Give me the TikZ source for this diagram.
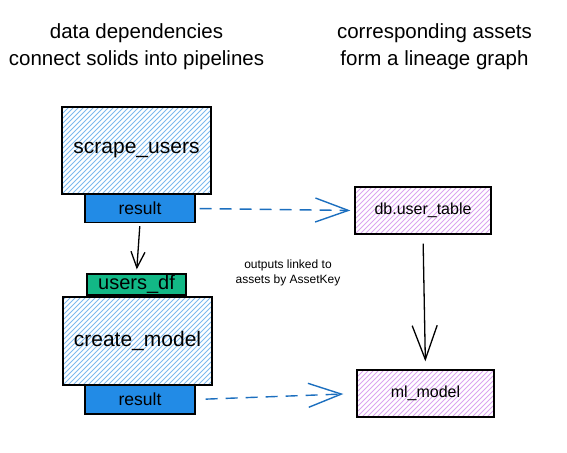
\documentclass[tikz,border=0pt]{standalone}
\usepackage{fontspec}
\setmainfont{Liberation Sans}
\usetikzlibrary{arrows.meta}
\definecolor{solidhatch}{HTML}{7DB9EE}
\definecolor{assethatch}{HTML}{DBA3F0}
\definecolor{outblue}{HTML}{228BE6}
\definecolor{ingreen}{HTML}{12B886}
\definecolor{linkblue}{HTML}{1C6FBF}
\begin{document}
\begin{tikzpicture}[x=1pt,y=-1pt,
  hatch/.style={path picture={
    \foreach \i in {-95,-90,...,155} {
      \draw[#1, line width=0.9pt] ([xshift=\i pt]path picture bounding box.south west) -- ++(170pt,170pt);
    }}},
  solidbox/.style={draw=black, line width=1.3pt, hatch=solidhatch,
    minimum width=149pt, minimum height=87pt, inner sep=0pt,
    font=\fontsize{21}{24}\selectfont},
  assetbox/.style={draw=black, line width=1.3pt, hatch=assethatch,
    minimum width=136pt, minimum height=47pt, inner sep=0pt,
    font=\fontsize{16}{20}\selectfont},
  outbox/.style={draw=black, line width=1.3pt, fill=outblue,
    minimum width=110pt, minimum height=28pt, inner sep=0pt,
    font=\fontsize{17.5}{20}\selectfont},
  inbox/.style={draw=black, line width=1.3pt, fill=ingreen,
    minimum width=99pt, minimum height=21pt, inner sep=0pt,
    font=\fontsize{20}{22}\selectfont},
  title/.style={align=center, inner sep=0pt, font=\fontsize{20.5}{27}\selectfont},
  note/.style={align=center, inner sep=0pt, font=\fontsize{12}{15}\selectfont},
  flow/.style={draw=black, line width=1.3pt, -{Straight Barb[length=16pt,width=14pt]}},
  lineage/.style={draw=black, line width=1.3pt, -{Straight Barb[length=34pt,width=25pt]}},
  link/.style={draw=linkblue, line width=1.4pt, dash pattern=on 12pt off 8pt,
    -{Straight Barb[length=33pt,width=24pt]}}
]
\useasboundingbox (0,0) rectangle (567,452);

\node[title] (t1) at (136.5,47) {data dependencies\\connect solids into pipelines};
\node[title] (t2) at (434.5,47) {corresponding assets\\form a lineage graph};

\node[solidbox] (su) at (136.5,150.5) {scrape\_users};
\node[outbox] (r1) at (140,208.5) {result};

\node[inbox] (udf) at (136.5,284.5) {users\_df};
\node[solidbox, minimum height=88pt] (cm) at (137.5,341) {create\_model};
\node[outbox, minimum height=29pt] (r2) at (140,399.5) {result};

\node[assetbox] (db) at (423,210.5) {db.user\_table};
\node[assetbox, minimum width=137pt] (ml) at (425.5,393.5) {ml\_model};

\node[note] (nt) at (288,272.5) {outputs linked to\\assets by AssetKey};

\draw[flow, shorten <=3pt, shorten >=4pt] (r1.south) -- (udf.north);
\draw[link, shorten <=4pt, shorten >=4pt] (r1.east) -- (db.west);
\draw[link, shorten <=10pt, shorten >=13pt] (r2.east) -- (ml.west);
\draw[lineage, shorten <=9pt, shorten >=8pt] (db.south) -- (ml.north);
\end{tikzpicture}
\end{document}
